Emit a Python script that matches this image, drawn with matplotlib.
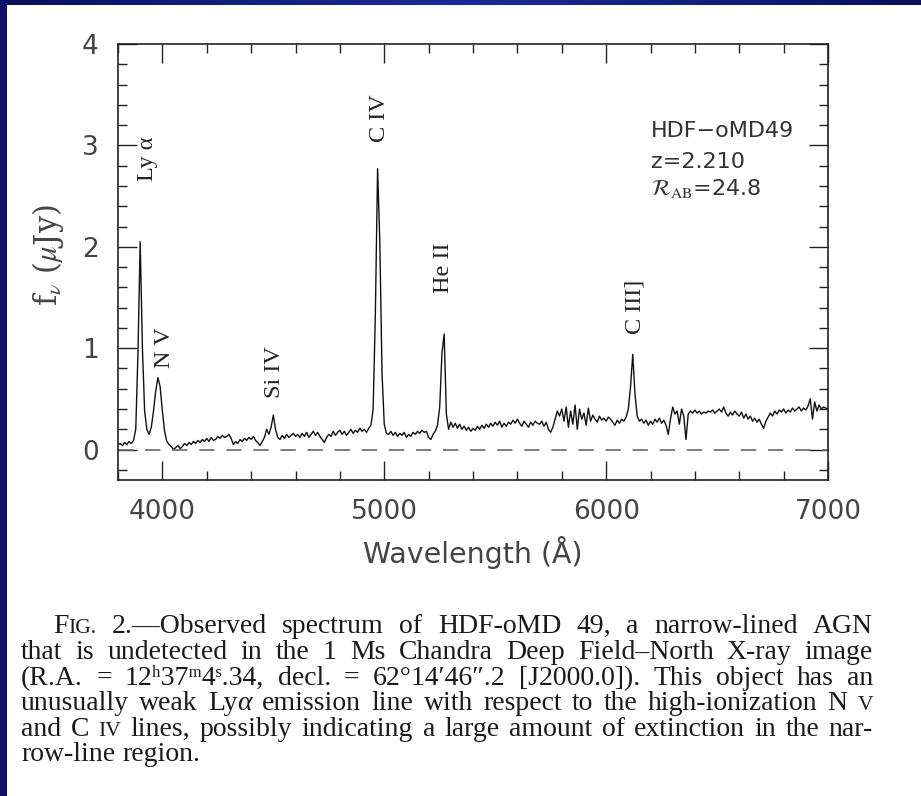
import numpy as np
import matplotlib
matplotlib.use("Agg")
import matplotlib.pyplot as plt
from matplotlib.ticker import MultipleLocator
from matplotlib.patches import Rectangle
from matplotlib.colors import LinearSegmentedColormap

plt.rcParams['lines.scale_dashes'] = False
plt.rcParams['mathtext.fontset'] = 'stix'

# ---------------- data ----------------
wave_start, wave_stop, wave_step = 3800, 7000, 10   # Angstrom grid of the spectrum

# flux density (microJy), one value per 10 A from 3800 to 7000
flux = [
    0.05, 0.06, 0.04, 0.07, 0.05, 0.08, 0.06, 0.09, 0.20, 0.95,   # 3800
    2.05, 1.00, 0.38, 0.20, 0.15, 0.22, 0.38, 0.58, 0.71, 0.62,   # 3900
    0.38, 0.18, 0.08, 0.05, 0.03, 0.00, 0.02, 0.04, 0.01, 0.03,   # 4000
    0.06, 0.04, 0.07, 0.05, 0.08, 0.06, 0.09, 0.07, 0.10, 0.08,   # 4100
    0.11, 0.08, 0.12, 0.09, 0.10, 0.13, 0.11, 0.14, 0.12, 0.13,   # 4200
    0.15, 0.11, 0.05, 0.08, 0.06, 0.10, 0.08, 0.11, 0.09, 0.12,   # 4300
    0.10, 0.13, 0.09, 0.07, 0.04, 0.08, 0.12, 0.20, 0.15, 0.22,   # 4400
    0.34, 0.20, 0.12, 0.10, 0.14, 0.11, 0.15, 0.12, 0.14, 0.16,   # 4500
    0.13, 0.15, 0.12, 0.16, 0.13, 0.17, 0.12, 0.15, 0.18, 0.14,   # 4600
    0.17, 0.13, 0.10, 0.07, 0.12, 0.15, 0.13, 0.18, 0.14, 0.17,   # 4700
    0.19, 0.15, 0.18, 0.14, 0.17, 0.20, 0.16, 0.19, 0.17, 0.21,   # 4800
    0.18, 0.20, 0.17, 0.21, 0.24, 0.40, 1.35, 2.77, 2.05, 0.75,   # 4900
    0.25, 0.16, 0.15, 0.18, 0.14, 0.17, 0.13, 0.16, 0.14, 0.17,   # 5000
    0.12, 0.15, 0.13, 0.17, 0.15, 0.18, 0.16, 0.19, 0.17, 0.18,   # 5100
    0.12, 0.10, 0.15, 0.18, 0.24, 0.42, 0.95, 1.14, 0.35, 0.20,   # 5200
    0.27, 0.22, 0.26, 0.21, 0.25, 0.20, 0.23, 0.19, 0.22, 0.18,   # 5300
    0.21, 0.19, 0.23, 0.20, 0.24, 0.21, 0.25, 0.22, 0.26, 0.23,   # 5400
    0.27, 0.24, 0.28, 0.22, 0.26, 0.23, 0.27, 0.25, 0.29, 0.26,   # 5500
    0.30, 0.26, 0.23, 0.28, 0.25, 0.22, 0.27, 0.24, 0.28, 0.26,   # 5600
    0.25, 0.28, 0.23, 0.27, 0.20, 0.17, 0.22, 0.30, 0.38, 0.33,   # 5700
    0.40, 0.28, 0.42, 0.22, 0.38, 0.25, 0.44, 0.20, 0.40, 0.30,   # 5800
    0.36, 0.24, 0.41, 0.28, 0.34, 0.30, 0.27, 0.33, 0.29, 0.31,   # 5900
    0.28, 0.32, 0.30, 0.27, 0.24, 0.29, 0.26, 0.30, 0.28, 0.32,   # 6000
    0.40, 0.62, 0.94, 0.55, 0.33, 0.28, 0.30, 0.26, 0.29, 0.24,   # 6100
    0.28, 0.25, 0.30, 0.27, 0.31, 0.26, 0.29, 0.24, 0.15, 0.30,   # 6200
    0.42, 0.35, 0.38, 0.25, 0.40, 0.33, 0.10, 0.35, 0.38, 0.36,   # 6300
    0.39, 0.36, 0.38, 0.35, 0.37, 0.36, 0.38, 0.37, 0.39, 0.36,   # 6400
    0.38, 0.40, 0.37, 0.42, 0.36, 0.33, 0.37, 0.34, 0.38, 0.35,   # 6500
    0.33, 0.37, 0.31, 0.35, 0.30, 0.33, 0.28, 0.31, 0.27, 0.30,   # 6600
    0.25, 0.21, 0.28, 0.32, 0.36, 0.33, 0.38, 0.35, 0.39, 0.37,   # 6700
    0.40, 0.36, 0.39, 0.37, 0.41, 0.38, 0.40, 0.42, 0.38, 0.41,   # 6800
    0.39, 0.43, 0.50, 0.30, 0.47, 0.38, 0.44, 0.40, 0.42, 0.41,   # 6900
    0.40,                                                         # 7000
]

# emission-line labels: text, wavelength, flux of label centre
line_names = ["Ly α", "N V", "Si IV", "C IV", "He II", "C III]"]
line_waves = [3932, 4009, 4505, 4977, 5266, 6131]
line_label_y = [2.87, 1.01, 0.76, 3.27, 1.79, 1.41]

info_lines = ["HDF\u2212oMD49", "z=2.210", r"$\mathcal{R}_{\rm AB}$=24.8"]

x_limits = (3800, 7000)
y_limits = (-0.3, 4.0)

# figure caption: each word is a string or a list of (text, kind) runs
caption = [
    [[("F", "n"), ("IG.", "sc")], "2.\u2014Observed", "spectrum", "of", "HDF-oMD", "49,",
     "a", "narrow-lined", "AGN"],
    ["that", "is", "undetected", "in", "the", "1", "Ms", "Chandra", "Deep",
     "Field\u2013North", "X-ray", "image"],
    ["(R.A.", "=", "12\u02b037\u1d504\u02e2.34,",
     "decl.", "=", "62°14\u203246\u2033.2", "[J2000.0]).", "This", "object", "has", "an"],
    ["unusually", "weak", [("Ly", "n"), ("α", "it")], "emission", "line", "with", "respect",
     "to", "the", "high-ionization", "N", [("V", "sc")]],
    ["and", "C", [("IV", "sc")], "lines,", "possibly", "indicating", "a", "large", "amount",
     "of", "extinction", "in", "the", "nar-"],
    ["row-line", "region."],
]

# ---------------- figure ----------------
W, H = 921, 796
fig = plt.figure(figsize=(W / 100, H / 100), dpi=100)
fig.patch.set_facecolor("white")

# slide frame: dark blue strip on the left and a shaded bar along the top
navy = "#0b1268"
fig.add_artist(Rectangle((0, 0), 7 / W, 1, transform=fig.transFigure,
                         facecolor=navy, edgecolor="none"))
bar = fig.add_axes([0, 1 - 5 / H, 1, 5 / H])
bar_cmap = LinearSegmentedColormap.from_list(
    "bar", ["#0a0f5c", "#13207f", "#1a2b98", "#13207f", "#0a0f5c"])
bar.imshow(np.linspace(0, 1, 256)[None, :], aspect="auto", cmap=bar_cmap,
           extent=(0, 1, 0, 1))
bar.set_axis_off()

ax = fig.add_axes([118 / W, 1 - 480 / H, 710 / W, 436 / H])
wavelength = np.arange(wave_start, wave_stop + 1, wave_step)
ax.plot(wavelength, flux, color="#111111", lw=1.0)
ax.axhline(0, color="#666666", lw=1.2, dashes=(11, 8.5))

ax.set_xlim(*x_limits)
ax.set_ylim(*y_limits)
ax.xaxis.set_major_locator(MultipleLocator(1000))
ax.xaxis.set_minor_locator(MultipleLocator(200))
ax.yaxis.set_major_locator(MultipleLocator(1))
ax.yaxis.set_minor_locator(MultipleLocator(0.2))
ax.tick_params(which="both", direction="in", top=True, right=True,
               color="#222222", width=1.0)
ax.tick_params(which="major", length=14, pad=14, labelsize=19, labelcolor="#444444")
ax.tick_params(which="minor", length=6.5)
for s in ax.spines.values():
    s.set_linewidth(1.2)
    s.set_color("#222222")

ax.set_xlabel("Wavelength (Å)", fontsize=20.5, color="#444444", va="center")
ax.xaxis.set_label_coords(0.5, -0.167)
ax.set_ylabel(r"f$_\nu$ ($\mu$Jy)", fontsize=22, color="#444444",
              family="DejaVu Serif", va="center")
ax.yaxis.set_label_coords(-0.099, 0.516)

for name, wl, yy in zip(line_names, line_waves, line_label_y):
    ax.text(wl, yy, name, rotation=90, ha="center", va="center",
            family="Liberation Serif", fontsize=17.5, color="#222222")

info_y = [3.14, 2.84, 2.57]
for txt, yy in zip(info_lines, info_y):
    ax.text(6203, yy, txt, ha="left", va="center", fontsize=16, color="#333333")

# ---------------- justified caption ----------------
CAP_FONT = ["Liberation Serif", "DejaVu Serif"]
CAP_SIZE = 20.0
renderer = fig.canvas.get_renderer()


def run_style(kind):
    if kind == "sc":
        return CAP_SIZE * 0.78, "normal"
    if kind == "it":
        return CAP_SIZE, "italic"
    return CAP_SIZE, "normal"


def as_runs(word):
    return [(word, "n")] if isinstance(word, str) else word


def run_width(text, kind):
    size, style = run_style(kind)
    t = fig.text(0, 0, text, fontsize=size, family=CAP_FONT, style=style)
    w = t.get_window_extent(renderer).width
    t.remove()
    return w


left_px, right_px, indent_px = 21, 873, 53
baselines = [633, 659, 685, 710, 736, 761]
space_w = run_width("a b", "n") - run_width("ab", "n")

for i, (words, base) in enumerate(zip(caption, baselines)):
    x0 = indent_px if i == 0 else left_px
    widths = [sum(run_width(t, k) for t, k in as_runs(w)) for w in words]
    if i < len(caption) - 1:
        gap = (right_px - x0 - sum(widths)) / (len(words) - 1)
    else:
        gap = space_w
    x = x0
    for w, ww in zip(words, widths):
        xr = x
        for t, k in as_runs(w):
            size, style = run_style(k)
            fig.text(xr / W, 1 - base / H, t, fontsize=size, family=CAP_FONT,
                     style=style, color="#1a1a1a", ha="left", va="baseline")
            xr += run_width(t, k)
        x += ww + gap

fig.savefig("out.png", dpi=100, facecolor="white")
